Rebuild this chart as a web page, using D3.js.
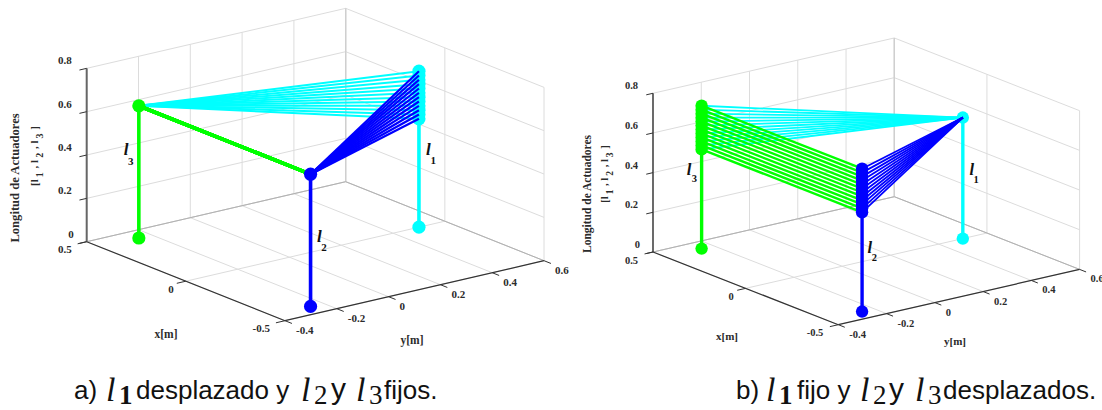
<!DOCTYPE html>
<html>

<head>
  <title>Longitud de Actuadores</title>
  <script src="https://d3js.org/d3.v7.min.js"></script>

  <style type="text/css">
    html, body {
      margin: 0;
      padding: 0;
      background: #fff;
    }

    svg {
      display: block;
    }

    .tick-label, .axis-title {
      font-family: "Liberation Serif", serif;
      font-weight: bold;
      fill: #2b2b2b;
    }

    .caption {
      font-family: "Liberation Sans", sans-serif;
      fill: #111;
    }

    .caption-math {
      font-family: "Liberation Serif", serif;
      fill: #111;
    }
  </style>
</head>

<body>
  <div id="chart"></div>

  <script type="text/javascript">
    // values
    var xTicks = [0.5, 0, -0.5];
    var yTicks = [-0.4, -0.2, 0, 0.2, 0.4, 0.6];
    var zTicks = [0, 0.2, 0.4, 0.6, 0.8];

    // actuator feet [x, y]
    var footL1 = [0, 0.5];
    var footL2 = [-0.433, -0.25];
    var footL3 = [0.433, -0.25];

    var fixedLength = [0.61];
    var sweepLength = [0.50, 0.52, 0.54, 0.56, 0.58, 0.60, 0.62, 0.64, 0.66, 0.68, 0.70, 0.72];

    var cyan = "#00ffff", green = "#00ff00", blue = "#0000ff";

    var svg = d3.select("#chart").append("svg")
      .attr("width", 1102)
      .attr("height", 410);

    // panel a
    drawPanel({
      origin: [86.7, 241.7],
      xVec: [198.3, 79],
      yVec: [259, -60],
      zLen: 216.7,
      l1: sweepLength,
      l2: fixedLength,
      l3: fixedLength,
      font: 11,
      radius: 6.6,
      legWidth: 3.6,
      segWidth: { c: 2, g: 3.4, b: 2.2 },
      zAxis: { color: "#666", width: 2 },
      xTitle: [166, 338],
      yTitle: [412, 344],
      title1: [19, 178, 12.6],
      title2: [38, 156],
      notes: [
        { p: [126, 155], s: [130.7, 165], t: "3" },
        { p: [428.3, 155], s: [433.3, 164], t: "1" },
        { p: [319.3, 242], s: [324, 251], t: "2" }
      ]
    });

    // panel b
    drawPanel({
      origin: [653, 252],
      xVec: [185.3, 72.7],
      yVec: [241.3, -55.3],
      zLen: 198.4,
      l1: fixedLength,
      l2: sweepLength,
      l3: sweepLength,
      font: 10.5,
      radius: 6.2,
      legWidth: 3.4,
      segWidth: { c: 1.8, g: 2.4, b: 1.8 },
      zAxis: { color: "#333", width: 1.4 },
      xTitle: [727, 340],
      yTitle: [955, 345],
      title1: [591, 194, 11.5],
      title2: [608, 174],
      notes: [
        { p: [689, 175], s: [694.3, 182], t: "3" },
        { p: [971.7, 175], s: [976, 182.5], t: "1" },
        { p: [869.7, 253], s: [874.3, 261], t: "2" }
      ]
    });

    // captions
    caption([
      { t: "a)", x: 74 }, { l: "1", x: 106, bold: true }, { t: "desplazado y", x: 136 },
      { l: "2", x: 301 }, { t: "y", x: 331, big: true }, { l: "3", x: 356 }, { t: "fijos.", x: 384 }
    ]);
    caption([
      { t: "b)", x: 736 }, { l: "1", x: 766, bold: true }, { t: "fijo y", x: 797 },
      { l: "2", x: 860 }, { t: "y", x: 889, big: true }, { l: "3", x: 915 }, { t: "desplazados.", x: 943 }
    ]);

    function caption(parts) {
      parts.forEach(function (d) {
        if (d.t) {
          svg.append("text").attr("class", "caption")
            .attr("x", d.x).attr("y", 399)
            .attr("font-size", d.big ? 30 : 26)
            .text(d.t);
        } else {
          svg.append("text").attr("class", "caption-math")
            .attr("x", d.x).attr("y", 401)
            .attr("font-size", 34)
            .attr("font-style", "italic")
            .text("l");
          svg.append("text").attr("class", "caption-math")
            .attr("x", d.x + 13).attr("y", 404)
            .attr("font-size", 27)
            .attr("font-weight", d.bold ? "bold" : "normal")
            .text(d.l);
        }
      });
    }

    function drawPanel(cfg) {
      var g = svg.append("g");

      // the box is a parallel projection, one scale per screen direction
      var xToH = d3.scaleLinear().domain([0.5, -0.5]).range([0, cfg.xVec[0]]);
      var xToV = d3.scaleLinear().domain([0.5, -0.5]).range([0, cfg.xVec[1]]);
      var yToH = d3.scaleLinear().domain([-0.4, 0.6]).range([0, cfg.yVec[0]]);
      var yToV = d3.scaleLinear().domain([-0.4, 0.6]).range([0, cfg.yVec[1]]);
      var zToV = d3.scaleLinear().domain([0, 1]).range([0, -cfg.zLen]);

      function project(x, y, z) {
        return [
          cfg.origin[0] + xToH(x) + yToH(y),
          cfg.origin[1] + xToV(x) + yToV(y) + zToV(z)
        ];
      }

      function seg(a, b, color, width) {
        var p = project(a[0], a[1], a[2]), q = project(b[0], b[1], b[2]);
        g.append("line")
          .attr("x1", p[0]).attr("y1", p[1])
          .attr("x2", q[0]).attr("y2", q[1])
          .style("stroke", color)
          .style("stroke-width", width);
      }

      function dot(a, color) {
        var p = project(a[0], a[1], a[2]);
        g.append("circle")
          .attr("cx", p[0]).attr("cy", p[1]).attr("r", cfg.radius)
          .style("fill", color);
      }

      // grid on the two walls and the floor
      var gridColor = "#dcdcdc";
      xTicks.forEach(function (x) {
        seg([x, -0.4, 0], [x, 0.6, 0], gridColor, 1);
        seg([x, 0.6, 0], [x, 0.6, 0.8], gridColor, 1);
      });
      yTicks.forEach(function (y) {
        seg([-0.5, y, 0], [0.5, y, 0], gridColor, 1);
        seg([0.5, y, 0], [0.5, y, 0.8], gridColor, 1);
      });
      zTicks.forEach(function (z) {
        seg([0.5, -0.4, z], [0.5, 0.6, z], gridColor, 1);
        seg([0.5, 0.6, z], [-0.5, 0.6, z], gridColor, 1);
      });
      seg([0.5, 0.6, 0], [0.5, 0.6, 0.8], "#cfcfcf", 1.4);
      seg([0.5, -0.4, 0], [0.5, 0.6, 0], "#b0b0b0", 1);
      seg([0.5, 0.6, 0], [-0.5, 0.6, 0], "#b0b0b0", 1);

      // axes and ticks
      seg([0.5, -0.4, 0], [-0.5, -0.4, 0], "#333", 1.2);
      seg([-0.5, -0.4, 0], [-0.5, 0.6, 0], "#333", 1.2);
      seg([0.5, -0.4, 0], [0.5, -0.4, 0.8], cfg.zAxis.color, cfg.zAxis.width);

      xTicks.forEach(function (x) {
        seg([x, -0.4, 0], [x, -0.435, 0], "#333", 1);
        var p = project(x, -0.4, 0);
        label(p[0] - (x === 0 ? 12 : 15), p[1] + 11.5, "end", x);
      });
      yTicks.forEach(function (y) {
        seg([-0.5, y, 0], [-0.535, y, 0], "#333", 1);
        var p = project(-0.5, y, 0);
        label(p[0] + 11, p[1] + 13, "start", y);
      });
      zTicks.forEach(function (z) {
        seg([0.5, -0.4, z], [0.5, -0.428, z], "#333", 1);
        var p = project(0.5, -0.4, z);
        label(p[0] - (z === 0 ? 13 : 15), p[1] - 4, "end", z);
      });

      function label(x, y, anchor, v) {
        g.append("text").attr("class", "tick-label")
          .attr("x", x).attr("y", y)
          .attr("text-anchor", anchor)
          .attr("font-size", cfg.font)
          .text(v);
      }

      // actuators, drawn colour by colour so blue ends on top
      var tops1 = cfg.l1.map(function (h) { return [footL1[0], footL1[1], h]; });
      var tops2 = cfg.l2.map(function (h) { return [footL2[0], footL2[1], h]; });
      var tops3 = cfg.l3.map(function (h) { return [footL3[0], footL3[1], h]; });
      var frames = d3.range(sweepLength.length);

      function at(list, i) { return list[i % list.length]; }

      frames.forEach(function (i) { seg(at(tops3, i), at(tops1, i), cyan, cfg.segWidth.c); });
      seg([footL1[0], footL1[1], 0], tops1[0], cyan, cfg.legWidth);
      tops1.forEach(function (p) { dot(p, cyan); });
      dot([footL1[0], footL1[1], 0], cyan);

      frames.forEach(function (i) { seg(at(tops2, i), at(tops3, i), green, cfg.segWidth.g); });
      seg([footL3[0], footL3[1], 0], tops3[0], green, cfg.legWidth);
      tops3.forEach(function (p) { dot(p, green); });
      dot([footL3[0], footL3[1], 0], green);

      frames.forEach(function (i) { seg(at(tops1, i), at(tops2, i), blue, cfg.segWidth.b); });
      seg([footL2[0], footL2[1], 0], tops2[0], blue, cfg.legWidth);
      tops2.forEach(function (p) { dot(p, blue); });
      dot([footL2[0], footL2[1], 0], blue);

      // titles
      g.append("text").attr("class", "axis-title")
        .attr("x", cfg.xTitle[0]).attr("y", cfg.xTitle[1])
        .attr("text-anchor", "middle").attr("font-size", cfg.font + 0.5)
        .text("x[m]");
      g.append("text").attr("class", "axis-title")
        .attr("x", cfg.yTitle[0]).attr("y", cfg.yTitle[1])
        .attr("text-anchor", "middle").attr("font-size", cfg.font + 0.5)
        .text("y[m]");
      g.append("text").attr("class", "axis-title")
        .attr("transform", "translate(" + cfg.title1[0] + "," + cfg.title1[1] + ") rotate(-90)")
        .attr("text-anchor", "middle").attr("font-size", cfg.title1[2])
        .text("Longitud de Actuadores");

      var t2 = g.append("text").attr("class", "axis-title")
        .attr("transform", "translate(" + cfg.title2[0] + "," + cfg.title2[1] + ") rotate(-90)")
        .attr("text-anchor", "middle").attr("font-size", cfg.font);
      [["[l", "1", " , "], ["l", "2", " , "], ["l", "3", " ]"]].forEach(function (d) {
        t2.append("tspan").text(d[0]);
        t2.append("tspan").attr("dy", 5).attr("dx", 2).attr("font-size", cfg.font - 1).text(d[1]);
        t2.append("tspan").attr("dy", -5).attr("dx", 1).text(d[2]);
      });

      // leg names
      cfg.notes.forEach(function (d) {
        g.append("text").attr("class", "axis-title")
          .attr("x", d.p[0]).attr("y", d.p[1])
          .attr("text-anchor", "middle")
          .attr("font-size", cfg.font + 6).attr("font-style", "italic")
          .style("fill", "#111")
          .text("l");
        g.append("text").attr("class", "axis-title")
          .attr("x", d.s[0]).attr("y", d.s[1])
          .attr("text-anchor", "middle")
          .attr("font-size", cfg.font)
          .style("fill", "#111")
          .text(d.t);
      });
    }
  </script>
</body>

</html>
